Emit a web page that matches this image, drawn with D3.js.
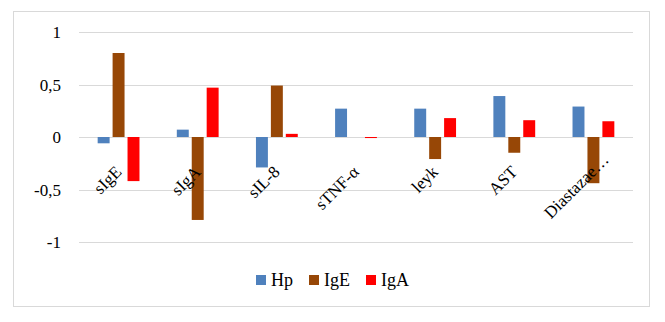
<!DOCTYPE html>
<html lang="ru">
<head>
<meta charset="UTF-8">
<script src="https://d3js.org/d3.v7.min.js"></script>
<title>Hp, IgE, IgA</title>
<style>
  body { margin: 0; background: #fff; }
  text { font-family: "Liberation Serif", "Times New Roman", serif; fill: #000; }
</style>
</head>
<body>
<script>
// chart data
var categories = ["sIgE", "sIgA", "sIL-8", "sTNF-\u03b1", "leyk", "AST", "Diastazae\u2026"];
var seriesNames = ["Hp", "IgE", "IgA"];
var hpValues  = [-0.06, 0.07, -0.29, 0.27, 0.27, 0.39, 0.29];
var igeValues = [0.80, -0.79, 0.49, 0.0, -0.21, -0.15, -0.44];
var igaValues = [-0.42, 0.47, 0.03, -0.01, 0.18, 0.16, 0.15];
var yTicks = [-1, -0.5, 0, 0.5, 1];
var colors = ["#4f81bd", "#974706", "#ff0000"];

var width = 665, height = 322;
var margin = {top: 32, right: 32, bottom: 80, left: 79};

var svg = d3.select("body").append("svg")
    .attr("width", width).attr("height", height);

// outer chart frame
svg.append("rect")
    .attr("x", 13.5).attr("y", 11.5)
    .attr("width", 636).attr("height", 295)
    .attr("fill", "#fff").attr("stroke", "#d9d9d9");

var x = d3.scaleBand().domain(categories)
    .range([margin.left, width - margin.right]);
var xInner = d3.scaleBand().domain(seriesNames)
    .range([0, x.bandwidth()]).paddingInner(0.2).paddingOuter(1.25);
var y = d3.scaleLinear().domain([-1, 1])
    .range([242, margin.top]);

// gridlines
svg.append("g").selectAll("line").data(yTicks).join("line")
    .attr("x1", margin.left).attr("x2", width - margin.right)
    .attr("y1", d => Math.round(y(d)) + 0.5).attr("y2", d => Math.round(y(d)) + 0.5)
    .attr("stroke", "#d9d9d9").attr("stroke-width", 1);

// y tick labels
svg.append("g").selectAll("text").data(yTicks).join("text")
    .attr("x", 61).attr("y", d => y(d) + 6)
    .attr("text-anchor", "end")
    .attr("font-size", 17)
    .text(d => String(d).replace(".", ","));

// bars
var rows = categories.map((c, i) => ({
  cat: c,
  vals: [hpValues[i], igeValues[i], igaValues[i]]
}));

var groups = svg.append("g").selectAll("g").data(rows).join("g")
    .attr("transform", d => "translate(" + x(d.cat) + ",0)");

groups.selectAll("rect")
  .data(d => d.vals.map((v, j) => ({name: seriesNames[j], v: v, color: colors[j]})))
  .join("rect")
    .attr("x", d => xInner(d.name))
    .attr("width", xInner.bandwidth())
    .attr("y", d => Math.min(y(0), y(d.v)))
    .attr("height", d => Math.abs(y(d.v) - y(0)))
    .attr("fill", d => d.color);

// category labels, -45deg, right end of baseline just under the zero line
svg.append("g").selectAll("text").data(categories).join("text")
    .attr("text-anchor", "end")
    .attr("font-size", 17)
    .text(d => d)
    .each(function(d) {
      var len = this.getComputedTextLength();
      // long (cut) labels sit further up along the slant
      var extra = Math.max(0, len - 60) * 0.75 * Math.SQRT1_2;
      var bx = x(d) + x.bandwidth() / 2 + 4 + extra;
      var by = y(0) + 36 - extra;
      d3.select(this).attr("transform", "translate(" + bx + "," + by + ") rotate(-45)");
    });

// legend
var legendX = [256, 309, 366];
var legend = svg.append("g").selectAll("g").data(seriesNames).join("g")
    .attr("transform", (d, i) => "translate(" + legendX[i] + ",275)");
legend.append("rect")
    .attr("width", 10).attr("height", 10)
    .attr("fill", (d, i) => colors[i]);
legend.append("text")
    .attr("x", 15).attr("y", 11)
    .attr("font-size", 18)
    .text(d => d);
</script>
</body>
</html>
